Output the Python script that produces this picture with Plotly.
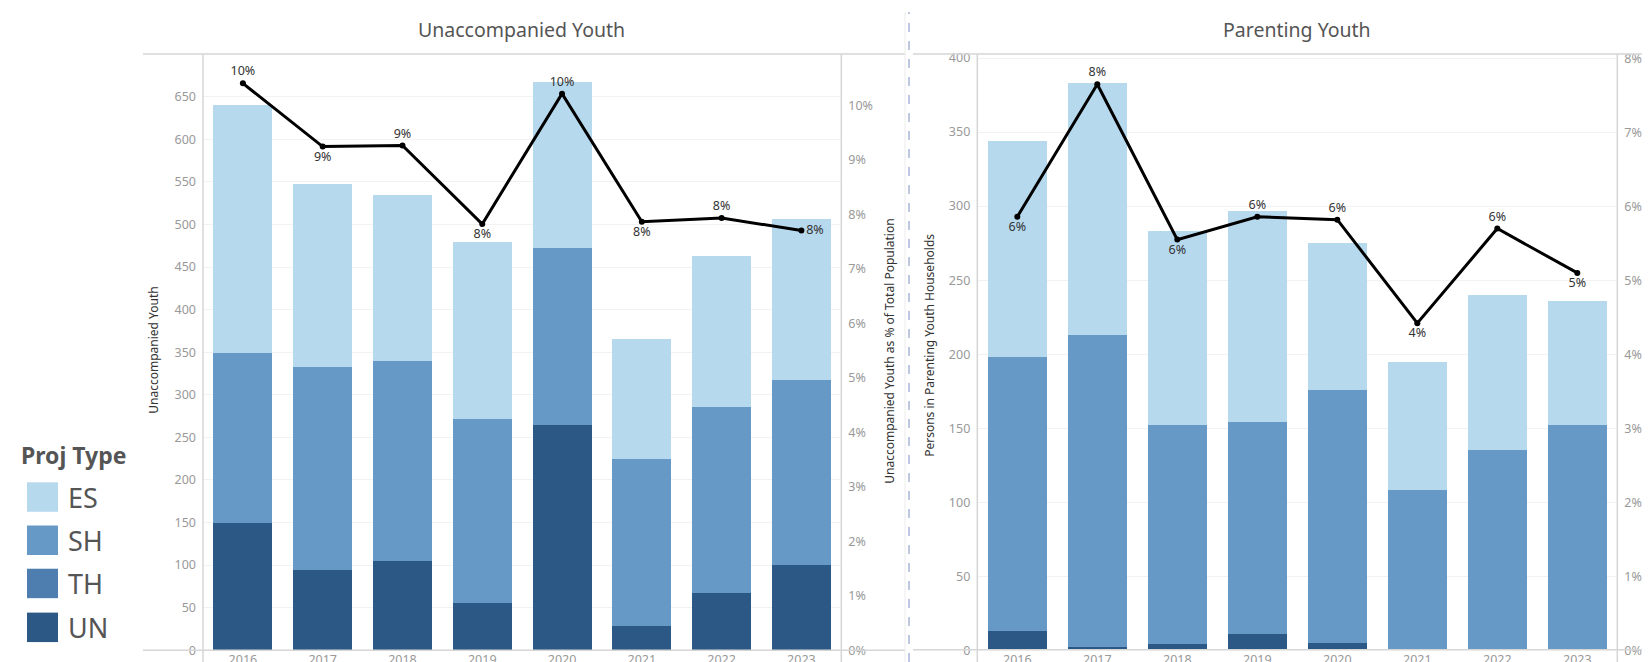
import plotly.graph_objects as go

years = ["2016", "2017", "2018", "2019", "2020", "2021", "2022", "2023"]
proj_types = ["ES", "SH", "TH", "UN"]
colors = {"ES": "#b6d9ee", "SH": "#6699c5", "TH": "#4e7eb0", "UN": "#2c5886"}

# Unaccompanied Youth (persons) by project type
uy_UN = [150, 94, 105, 55, 264, 28, 67, 100]
uy_TH = [0, 0, 0, 0, 0, 0, 0, 0]
uy_SH = [199, 239, 235, 217, 208, 197, 219, 217]
uy_ES = [291, 215, 195, 207, 195, 141, 177, 189]
uy_pct = [10.40, 9.24, 9.26, 7.82, 10.21, 7.86, 7.93, 7.70]

# Parenting Youth (persons in households) by project type
py_UN = [13, 2, 4, 11, 5, 0, 0, 0]
py_TH = [0, 0, 0, 0, 0, 0, 0, 0]
py_SH = [185, 211, 148, 143, 171, 108, 135, 152]
py_ES = [146, 170, 131, 143, 99, 87, 105, 84]
py_pct = [5.86, 7.65, 5.55, 5.86, 5.82, 4.42, 5.70, 5.10]

uy_ticks = list(range(0, 651, 50))
py_ticks = list(range(0, 401, 50))
uy_pct_ticks = list(range(0, 11))
py_pct_ticks = list(range(0, 9))

uy_pos = ["top center", "bottom center", "top center", "bottom center",
          "top center", "bottom center", "top center", "middle right"]
py_pos = ["bottom center", "top center", "bottom center", "top center",
          "top center", "bottom center", "top center", "bottom center"]

W, H = 1650, 662
def PX(x): return x / W
def PY(y): return (H - y) / H

FONT = "Noto Sans"
TICK = dict(family=FONT, size=12.5, color="#999999")

fig = go.Figure()

uy = {"UN": uy_UN, "TH": uy_TH, "SH": uy_SH, "ES": uy_ES}
pyd = {"UN": py_UN, "TH": py_TH, "SH": py_SH, "ES": py_ES}
for t in ["UN", "TH", "SH", "ES"]:
    fig.add_trace(go.Bar(x=years, y=uy[t], name=t, marker=dict(color=colors[t], line_width=0),
                         xaxis="x", yaxis="y", showlegend=False))
for t in ["UN", "TH", "SH", "ES"]:
    fig.add_trace(go.Bar(x=years, y=pyd[t], name=t, marker=dict(color=colors[t], line_width=0),
                         xaxis="x2", yaxis="y2", showlegend=False))

LBL = dict(family=FONT, size=12.5, color="#333333")
fig.add_trace(go.Scatter(x=years, y=uy_pct, xaxis="x", yaxis="y3", mode="lines+markers+text",
                         line=dict(color="black", width=3), marker=dict(color="black", size=6),
                         text=[f"{v:.0f}%" for v in uy_pct], textposition=uy_pos,
                         textfont=LBL, showlegend=False))
fig.add_trace(go.Scatter(x=years, y=py_pct, xaxis="x2", yaxis="y4", mode="lines+markers+text",
                         line=dict(color="black", width=3), marker=dict(color="black", size=6),
                         text=[f"{v:.0f}%" for v in py_pct], textposition=py_pos,
                         textfont=LBL, showlegend=False))

ydom = [PY(650), PY(42.7)]
common_x = dict(type="category", showline=False, showgrid=False, zeroline=False, ticks="",
                tickfont=TICK)
fig.update_layout(
    width=W, height=H, margin=dict(l=0, r=0, t=0, b=0), autosize=False,
    barmode="stack", bargap=0.26,
    paper_bgcolor="white", plot_bgcolor="white",
    font=dict(family=FONT),
    xaxis=dict(domain=[PX(195), PX(833.3)], anchor="y", **common_x),
    xaxis2=dict(domain=[PX(969.3), PX(1609.3)], anchor="y2", **common_x),
    yaxis=dict(domain=ydom, anchor="x", range=[0, 700.4], tickmode="array", tickvals=uy_ticks,
               showgrid=True, gridcolor="#f2f2f2", zeroline=False, showline=False, ticks="",
               tickfont=TICK, ticklabelstandoff=6),
    yaxis3=dict(overlaying="y", anchor="x", side="right", range=[0, 10.94], tickmode="array",
                tickvals=uy_pct_ticks, ticktext=[f"{v}%" for v in uy_pct_ticks],
                showgrid=False, zeroline=False, showline=False, ticks="",
                tickfont=TICK, ticklabelstandoff=6),
    yaxis2=dict(domain=ydom, anchor="x2", range=[0, 402.8], tickmode="array", tickvals=py_ticks,
                showgrid=True, gridcolor="#f2f2f2", zeroline=False, showline=False, ticks="",
                tickfont=TICK, ticklabelstandoff=6),
    yaxis4=dict(overlaying="y2", anchor="x2", side="right", range=[0, 8.06], tickmode="array",
                tickvals=py_pct_ticks, ticktext=[f"{v}%" for v in py_pct_ticks],
                showgrid=False, zeroline=False, showline=False, ticks="",
                tickfont=TICK, ticklabelstandoff=6),
)

lc = "#d6d6d6"
shapes = [
    dict(type="line", xref="paper", yref="paper", x0=PX(135), x1=PX(897), y0=PY(42.7), y1=PY(42.7), line=dict(color=lc, width=1.5)),
    dict(type="line", xref="paper", yref="paper", x0=PX(135), x1=PX(897), y0=PY(650), y1=PY(650), line=dict(color=lc, width=1.5)),
    dict(type="line", xref="paper", yref="paper", x0=PX(905), x1=1, y0=PY(42.7), y1=PY(42.7), line=dict(color=lc, width=1.5)),
    dict(type="line", xref="paper", yref="paper", x0=PX(905), x1=1, y0=PY(649.5), y1=PY(649.5), line=dict(color=lc, width=1.5)),
    dict(type="line", xref="paper", yref="paper", x0=PX(195), x1=PX(195), y0=PY(42.7), y1=0, line=dict(color=lc, width=1.5)),
    dict(type="line", xref="paper", yref="paper", x0=PX(833.3), x1=PX(833.3), y0=PY(42.7), y1=0, line=dict(color=lc, width=1.5)),
    dict(type="line", xref="paper", yref="paper", x0=PX(969.3), x1=PX(969.3), y0=PY(42.7), y1=0, line=dict(color=lc, width=1.5)),
    dict(type="line", xref="paper", yref="paper", x0=PX(1609.3), x1=PX(1609.3), y0=PY(42.7), y1=0, line=dict(color=lc, width=1.5)),
    dict(type="line", xref="paper", yref="paper", x0=PX(897), x1=PX(897), y0=0, y1=1, line=dict(color="#ececec", width=1)),
    dict(type="line", xref="paper", yref="paper", x0=PX(901), x1=PX(901), y0=0, y1=1, line=dict(color="#a9b6d6", width=1.5, dash="dash")),
]

AX = dict(family=FONT, size=12, color="#333333")
annotations = [
    dict(text="Unaccompanied Youth", xref="paper", yref="paper", x=PX(513), y=PY(18), showarrow=False,
         xanchor="center", yanchor="middle", font=dict(family=FONT, size=19.5, color="#555555")),
    dict(text="Parenting Youth", xref="paper", yref="paper", x=PX(1289), y=PY(18), showarrow=False,
         xanchor="center", yanchor="middle", font=dict(family=FONT, size=19.5, color="#555555")),
    dict(text="Unaccompanied Youth", xref="paper", yref="paper", x=PX(146), y=PY(345), showarrow=False,
         textangle=-90, xanchor="center", yanchor="middle", font=AX),
    dict(text="Unaccompanied Youth as % of Total Population", xref="paper", yref="paper", x=PX(882), y=PY(346),
         showarrow=False, textangle=-90, xanchor="center", yanchor="middle", font=AX),
    dict(text="Persons in Parenting Youth Households", xref="paper", yref="paper", x=PX(922), y=PY(340),
         showarrow=False, textangle=-90, xanchor="center", yanchor="middle", font=AX),
    dict(text="<b>Proj Type</b>", xref="paper", yref="paper", x=PX(11), y=PY(451), showarrow=False,
         xanchor="left", yanchor="middle", font=dict(family=FONT, size=23, color="#555555")),
]

sw_top = [479, 523, 567, 611.7]
for t, top in zip(proj_types, sw_top):
    shapes.append(dict(type="rect", xref="paper", yref="paper", x0=PX(19), x1=PX(50),
                       y0=PY(top + 30), y1=PY(top), fillcolor=colors[t], line=dict(width=0)))
    annotations.append(dict(text=t, xref="paper", yref="paper", x=PX(58), y=PY(top + 15), showarrow=False,
                            xanchor="left", yanchor="middle", font=dict(family=FONT, size=27, color="#555555")))

fig.update_layout(shapes=shapes, annotations=annotations)
fig.write_html("out.html")
